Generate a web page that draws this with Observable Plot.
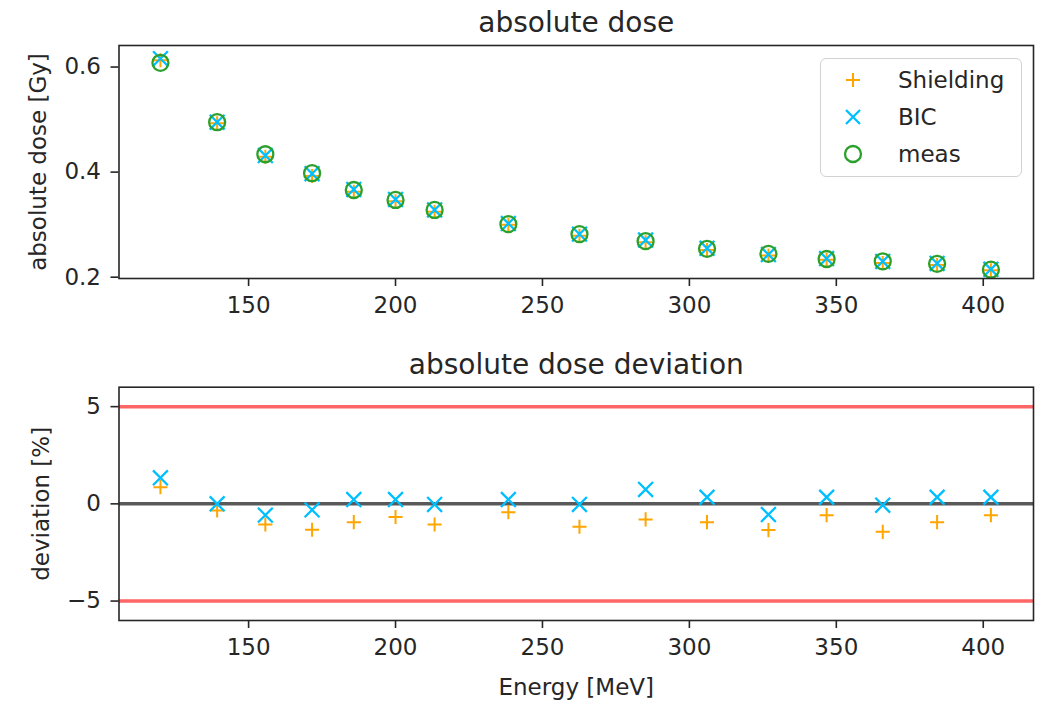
<!DOCTYPE html>
<html>
<head>
<meta charset="utf-8">
<script src="https://cdn.jsdelivr.net/npm/d3@7"></script>
<script src="https://cdn.jsdelivr.net/npm/@observablehq/plot@0.6"></script>
<style>
  body { margin: 0; background: #fff; }
  #chart { position: relative; width: 1043px; height: 703px; font-family: "DejaVu Sans", sans-serif; color: #262626; }
  #chart svg { display: block; }
  #chart svg [aria-label$="tick"] { stroke-width: 1.6px; }
  .legend { position: absolute; left: 820px; top: 58px; width: 202px; height: 119px; box-sizing: border-box;
            border: 1.5px solid #d2d2d2; border-radius: 6px; background: rgba(255,255,255,0.8); }
  .legend .mk { position: absolute; left: 20px; width: 24px; height: 24px; }
  .legend .lb { position: absolute; left: 77px; height: 30px; line-height: 30px; font-size: 23px; color: #262626; white-space: nowrap; }
</style>
</head>
<body>
<div id="chart"></div>
<script>
// ---- data ----
const energy = [120.0, 139.3, 155.7, 171.6, 185.8, 200.0, 213.3, 238.4, 262.6, 285.1, 306.0, 326.9, 346.7, 365.8, 384.3, 402.6];
const doseMeas = [0.608, 0.495, 0.434, 0.398, 0.366, 0.347, 0.328, 0.301, 0.282, 0.2686, 0.254, 0.2444, 0.2346, 0.2302, 0.2254, 0.2143];
const doseBIC = [0.616, 0.495, 0.4315, 0.397, 0.367, 0.348, 0.328, 0.302, 0.282, 0.2706, 0.2549, 0.2431, 0.2354, 0.2300, 0.2262, 0.2150];
const doseShielding = [0.613, 0.493, 0.4294, 0.3927, 0.3626, 0.3446, 0.3245, 0.2997, 0.2787, 0.2665, 0.2516, 0.2411, 0.2332, 0.2269, 0.2233, 0.2131];
const devBIC = [1.34, 0.0, -0.58, -0.31, 0.22, 0.22, -0.03, 0.22, -0.03, 0.74, 0.34, -0.55, 0.34, -0.07, 0.34, 0.34];
const devShielding = [0.86, -0.34, -1.06, -1.33, -0.94, -0.68, -1.06, -0.43, -1.18, -0.80, -0.94, -1.35, -0.58, -1.44, -0.94, -0.58];
const xTicks = [150, 200, 250, 300, 350, 400];
const doseTicks = [0.2, 0.4, 0.6];
const devTicks = [-5, 0, 5];
const limits = [5, -5];
const seriesNames = ["Shielding", "BIC", "meas"];
const seriesColors = ["orange", "deepskyblue", "#2ca02c"];

const rows = energy.map((e, i) => ({
  energy: e, meas: doseMeas[i], bic: doseBIC[i], shielding: doseShielding[i],
  devBIC: devBIC[i], devShielding: devShielding[i]
}));

const xDomain = [105.9, 417.1];
const ink = "#262626";
const minus = d => d < 0 ? "\u2212" + Math.abs(d) : String(d);

const common = {
  width: 1043,
  marginLeft: 118.5, marginRight: 10,
  style: { fontFamily: "DejaVu Sans", fontSize: "23px", color: ink, background: "white", overflow: "visible" }
};

const title = (t) => Plot.text([t], { text: d => d, frameAnchor: "top", lineAnchor: "middle", textAnchor: "middle", dy: -22, fontSize: 28, fill: ink });
const yLabel = (t, dx) => Plot.text([t], { text: d => d, frameAnchor: "left", textAnchor: "middle", lineAnchor: "middle", dx, rotate: -90, fontSize: 23, fill: ink });

const topPlot = Plot.plot({
  ...common,
  height: 330, marginTop: 45, marginBottom: 52,
  x: { domain: xDomain, ticks: xTicks, tickSize: 8, tickPadding: 10, label: null },
  y: { domain: [0.1975, 0.641], ticks: doseTicks, tickFormat: d3.format(".1f"), tickSize: 8, tickPadding: 10, label: null },
  marks: [
    Plot.dot(rows, { x: "energy", y: "shielding", symbol: "plus", stroke: seriesColors[0], r: 4.6, strokeWidth: 2 }),
    Plot.dot(rows, { x: "energy", y: "bic", symbol: "times", stroke: seriesColors[1], r: 6.8, strokeWidth: 2.3 }),
    Plot.dot(rows, { x: "energy", y: "meas", symbol: "circle", stroke: seriesColors[2], fill: "none", r: 8, strokeWidth: 2.3 }),
    Plot.frame({ stroke: ink, strokeWidth: 1.6 }),
    title("absolute dose"),
    yLabel("absolute dose [Gy]", -80)
  ]
});

const bottomPlot = Plot.plot({
  ...common,
  height: 373, marginTop: 56.7, marginBottom: 83,
  x: { domain: xDomain, ticks: xTicks, tickSize: 8, tickPadding: 10, label: null },
  y: { domain: [-6, 6], ticks: devTicks, tickFormat: minus, tickSize: 8, tickPadding: 10, label: null },
  marks: [
    Plot.ruleY(limits, { stroke: "red", strokeOpacity: 0.6, strokeWidth: 3.5 }),
    Plot.ruleY([0], { stroke: "black", strokeOpacity: 0.65, strokeWidth: 3.5 }),
    Plot.dot(rows, { x: "energy", y: "devShielding", symbol: "plus", stroke: seriesColors[0], r: 4.6, strokeWidth: 2 }),
    Plot.dot(rows, { x: "energy", y: "devBIC", symbol: "times", stroke: seriesColors[1], r: 6.8, strokeWidth: 2.3 }),
    Plot.frame({ stroke: ink, strokeWidth: 1.6 }),
    title("absolute dose deviation"),
    yLabel("deviation [%]", -77),
    Plot.text(["Energy [MeV]"], { text: d => d, frameAnchor: "bottom", lineAnchor: "top", textAnchor: "middle", dy: 58, fontSize: 23, fill: ink })
  ]
});

const chart = document.getElementById("chart");
chart.appendChild(topPlot);
chart.appendChild(bottomPlot);

// legend (inside the top axes, upper right)
const legend = document.createElement("div");
legend.className = "legend";
const markerSvg = [
  `<svg class="mk" viewBox="-12 -12 24 24"><path d="M-7,0H7M0,-7V7" stroke="${seriesColors[0]}" stroke-width="2" fill="none"/></svg>`,
  `<svg class="mk" viewBox="-12 -12 24 24"><path d="M-7,-7L7,7M-7,7L7,-7" stroke="${seriesColors[1]}" stroke-width="2.3" fill="none"/></svg>`,
  `<svg class="mk" viewBox="-12 -12 24 24"><circle r="8" stroke="${seriesColors[2]}" stroke-width="2.3" fill="none"/></svg>`
];
const rowCenters = [21, 58, 95];
seriesNames.forEach((name, i) => {
  legend.insertAdjacentHTML("beforeend",
    markerSvg[i].replace('class="mk"', `class="mk" style="top:${rowCenters[i] - 12}px"`) +
    `<div class="lb" style="top:${rowCenters[i] - 15}px">${name}</div>`);
});
chart.appendChild(legend);
</script>
</body>
</html>
